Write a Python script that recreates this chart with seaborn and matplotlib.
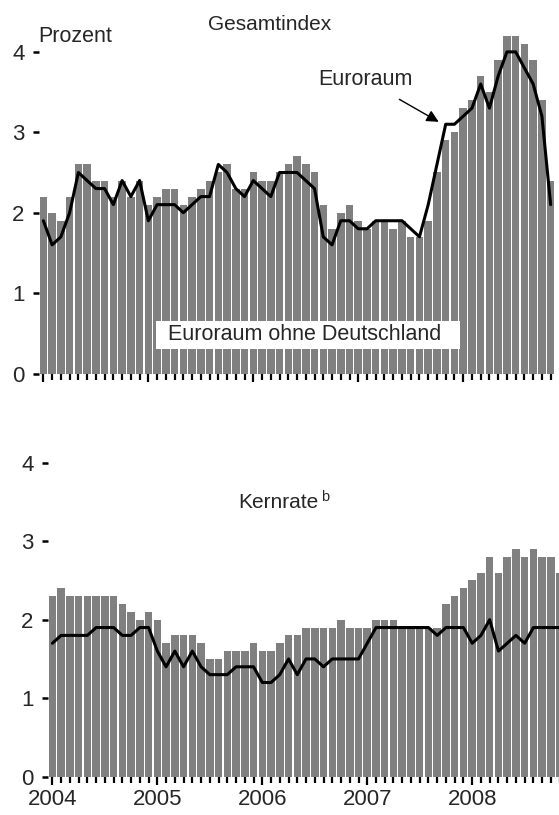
import matplotlib
matplotlib.use("Agg")
import matplotlib.pyplot as plt
import seaborn as sns
import numpy as np
from matplotlib.patches import Rectangle

sns.set_theme(style="white")
plt.rcParams['font.family'] = ['Liberation Sans Narrow', 'Liberation Sans', 'DejaVu Sans']

# Monthly data Jan 2004 - Nov 2008
months = list(range(59))
year_labels = ["2004", "2005", "2006", "2007", "2008"]

gesamt_ohne_de = [2.2, 2.0, 1.9, 2.2, 2.6, 2.6, 2.4, 2.4, 2.2, 2.4, 2.2, 2.4,
                  2.1, 2.2, 2.3, 2.3, 2.1, 2.2, 2.3, 2.4, 2.5, 2.6, 2.3, 2.3,
                  2.5, 2.4, 2.4, 2.5, 2.6, 2.7, 2.6, 2.5, 2.1, 1.8, 2.0, 2.1,
                  1.9, 1.8, 1.9, 1.9, 1.8, 1.9, 1.7, 1.7, 1.9, 2.5, 2.9, 3.0,
                  3.3, 3.4, 3.7, 3.5, 3.9, 4.2, 4.2, 4.1, 3.9, 3.4, 2.4]
gesamt_euro = [1.9, 1.6, 1.7, 2.0, 2.5, 2.4, 2.3, 2.3, 2.1, 2.4, 2.2, 2.4,
               1.9, 2.1, 2.1, 2.1, 2.0, 2.1, 2.2, 2.2, 2.6, 2.5, 2.3, 2.2,
               2.4, 2.3, 2.2, 2.5, 2.5, 2.5, 2.4, 2.3, 1.7, 1.6, 1.9, 1.9,
               1.8, 1.8, 1.9, 1.9, 1.9, 1.9, 1.8, 1.7, 2.1, 2.6, 3.1, 3.1,
               3.2, 3.3, 3.6, 3.3, 3.7, 4.0, 4.0, 3.8, 3.6, 3.2, 2.1]
kern_ohne_de = [2.3, 2.4, 2.3, 2.3, 2.3, 2.3, 2.3, 2.3, 2.2, 2.1, 2.0, 2.1,
                2.0, 1.7, 1.8, 1.8, 1.8, 1.7, 1.5, 1.5, 1.6, 1.6, 1.6, 1.7,
                1.6, 1.6, 1.7, 1.8, 1.8, 1.9, 1.9, 1.9, 1.9, 2.0, 1.9, 1.9,
                1.9, 2.0, 2.0, 2.0, 1.9, 1.9, 1.9, 1.9, 1.9, 2.2, 2.3, 2.4,
                2.5, 2.6, 2.8, 2.6, 2.8, 2.9, 2.8, 2.9, 2.8, 2.8, 2.6]
kern_euro = [1.7, 1.8, 1.8, 1.8, 1.8, 1.9, 1.9, 1.9, 1.8, 1.8, 1.9, 1.9,
             1.6, 1.4, 1.6, 1.4, 1.6, 1.4, 1.3, 1.3, 1.3, 1.4, 1.4, 1.4,
             1.2, 1.2, 1.3, 1.5, 1.3, 1.5, 1.5, 1.4, 1.5, 1.5, 1.5, 1.5,
             1.7, 1.9, 1.9, 1.9, 1.9, 1.9, 1.9, 1.9, 1.8, 1.9, 1.9, 1.9,
             1.7, 1.8, 2.0, 1.6, 1.7, 1.8, 1.7, 1.9, 1.9, 1.9, 1.9]

BAR = "#808080"
FS = 15.5

fig = plt.figure(figsize=(5.59, 8.15), dpi=100)
ax1 = fig.add_axes([0.0698, 0.5417, 0.9231, 0.4341])
ax2 = fig.add_axes([0.0859, 0.0470, 0.9231, 0.4238])


def draw(ax, bars, line):
    sns.barplot(x=months, y=bars, color=BAR, saturation=1, width=0.86,
                linewidth=0, ax=ax)
    sns.lineplot(x=months, y=line, color="black", linewidth=2.2, ax=ax)
    ax.set_xlim(-0.5, 58.5)
    ax.set_ylim(0, 4.4)
    for s in ax.spines.values():
        s.set_visible(False)
    ax.set_yticks([0, 1, 2, 3, 4])
    ax.set_yticklabels(["0", "1", "2", "3", "4"], fontsize=16)
    ax.tick_params(axis="y", left=True, length=4.5, width=1.8, pad=6,
                   color="black", direction="out")
    ax.set_xticks(list(range(0, 59, 12)))
    ax.set_xticks(months, minor=True)
    ax.tick_params(axis="x", which="major", bottom=True, length=6, width=1.6,
                   color="black", direction="out", labelsize=16, pad=3)
    ax.tick_params(axis="x", which="minor", bottom=True, length=4, width=1.6,
                   color="black", direction="out")
    ax.set_xlabel("")
    ax.set_ylabel("")
    ax.grid(False)


draw(ax1, gesamt_ohne_de, gesamt_euro)
draw(ax2, kern_ohne_de, kern_euro)
ax1.set_xticklabels([""] * 5)
ax2.set_xticklabels(year_labels)

# annotations top panel
ax1.add_patch(Rectangle((12.88, 0.311), 47.64 - 12.88, 0.647 - 0.311,
                        facecolor="white", edgecolor="none", zorder=5))
ax1.text(14.25, 0.485, "Euroraum ohne Deutschland", fontsize=FS, va="center",
         ha="left", zorder=6)
ax1.text(36.8, 3.66, "Euroraum", fontsize=FS, ha="center", va="center")
ax1.annotate("", xy=(45.2, 3.13), xytext=(40.7, 3.41),
             arrowprops=dict(arrowstyle="-|>", color="black", lw=1.0,
                             mutation_scale=18, shrinkA=0, shrinkB=0))

fig.text(270 / 559, 1 - 25 / 815, "Gesamtindex", fontsize=FS - 0.5,
         ha="center", va="center")
fig.text(38 / 559, 1 - 36 / 815, "Prozent", fontsize=FS, ha="left",
         va="center")
fig.text(278 / 559, 1 - 503 / 815, "Kernrate", fontsize=FS - 0.5,
         ha="center", va="center")
fig.text(321 / 559, 1 - 497 / 815, "b", fontsize=10.5, ha="left",
         va="center")

fig.savefig("out.png", dpi=100)
